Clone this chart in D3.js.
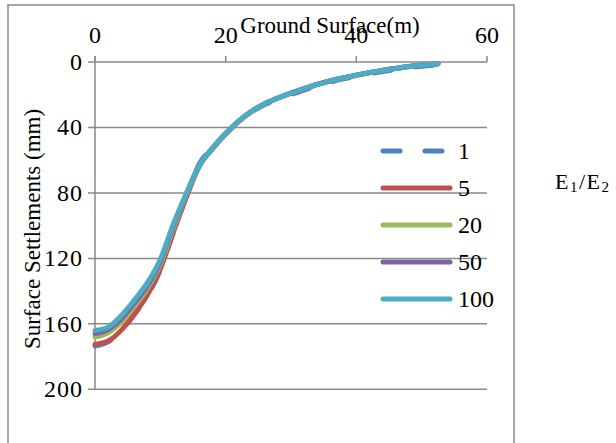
<!DOCTYPE html>
<html>
<head>
<meta charset="utf-8">
<script src="https://cdn.jsdelivr.net/npm/d3@7"></script>
<style>
  html, body { margin: 0; padding: 0; background: #fff; }
  svg { display: block; }
</style>
</head>
<body>
<svg id="chart" width="616" height="443"></svg>
<script>
// ---- data ----
const distance = [0, 2, 4, 6, 8, 10, 12, 14, 16, 18, 20, 22, 24, 26, 28, 30, 32, 34, 36, 38, 40, 42, 44, 46, 48, 50, 52.5];
const ratioLabels = ["1", "5", "20", "50", "100"];
const settle1   = [173.5, 171, 164.5, 154.5, 143, 127, 104, 81.5, 62, 52.5, 44, 36.5, 30.5, 26, 22.5, 19.8, 17.2, 14.5, 12.3, 10.3, 8.7, 7.2, 5.8, 4.6, 3.5, 2.6, 1.8];
const settle5   = [172.5, 170.5, 164, 154, 142.5, 126.5, 104, 82.5, 63.5, 53, 44, 36.3, 30.2, 25.6, 22, 19, 16.4, 13.8, 11.6, 9.7, 8.1, 6.6, 5.2, 4, 2.9, 2, 1.1];
const settle20  = [168, 165.5, 159, 149.5, 138.5, 123.5, 101.5, 81, 63.2, 52.8, 43.8, 36.2, 30.1, 25.5, 22, 19, 16.3, 13.7, 11.5, 9.7, 8, 6.5, 5.1, 3.9, 2.8, 1.9, 1];
const settle50  = [166, 163.5, 157, 147.5, 136.8, 122, 100, 80.5, 63, 52.6, 43.6, 36.1, 30, 25.5, 22, 19, 16.3, 13.7, 11.5, 9.7, 8, 6.5, 5.1, 3.9, 2.8, 1.9, 1];
const settle100 = [164, 162, 155, 145.5, 135, 120.5, 99, 80, 63, 52.5, 43.5, 36, 30, 25.5, 22, 19, 16.3, 13.7, 11.5, 9.7, 8, 6.5, 5.1, 3.9, 2.8, 1.9, 1];
const xTicks = [0, 20, 40, 60];
const yTicks = [0, 40, 80, 120, 160, 200];
const seriesColors = ["#4F81BD", "#C0504D", "#9BBB59", "#8064A2", "#4BACC6"];
const xTitle = "Ground Surface(m)";
const yTitle = "Surface Settlements (mm)";

const seriesValues = [settle1, settle5, settle20, settle50, settle100];
const series = ratioLabels.map((name, i) => ({
  name, color: seriesColors[i], dashed: i === 0,
  points: distance.map((d, j) => [d, seriesValues[i][j]])
}));

// ---- layout ----
const svg = d3.select("#chart");
const FONT = "Liberation Serif";
const pL = 95, pR = 487, pT = 62, pB = 389.3;
const x = d3.scaleLinear().domain([0, 60]).range([pL, pR]);
const y = d3.scaleLinear().domain([0, 200]).range([pT, pB]);
const axisColor = "#898989";

// outer frame (bottom clipped by the window)
svg.append("rect").attr("x", 8).attr("y", 5).attr("width", 506).attr("height", 460)
  .attr("fill", "none").attr("stroke", axisColor).attr("stroke-width", 1.5);

// gridlines + y ticks (extending left of axis)
svg.append("g").selectAll("line").data(yTicks.filter(t => t !== 0)).join("line")
  .attr("x1", pL - 7).attr("x2", pR)
  .attr("y1", d => y(d)).attr("y2", d => y(d))
  .attr("stroke", axisColor).attr("stroke-width", 1.5);

// y axis line
svg.append("line").attr("x1", pL).attr("x2", pL).attr("y1", pT - 6).attr("y2", pB)
  .attr("stroke", axisColor).attr("stroke-width", 1.5);
// x axis at top
svg.append("line").attr("x1", pL - 7).attr("x2", pR).attr("y1", pT).attr("y2", pT)
  .attr("stroke", axisColor).attr("stroke-width", 1.5);
// x ticks pointing up
svg.append("g").selectAll("line").data(xTicks).join("line")
  .attr("x1", d => x(d)).attr("x2", d => x(d))
  .attr("y1", pT - 6).attr("y2", pT)
  .attr("stroke", axisColor).attr("stroke-width", 1.5);

// tick labels
svg.append("g").selectAll("text").data(xTicks).join("text")
  .attr("x", d => x(d)).attr("y", 43).attr("text-anchor", "middle")
  .attr("font-family", FONT).attr("font-size", 24).text(d => d);
svg.append("g").selectAll("text").data(yTicks).join("text")
  .attr("x", 83).attr("y", d => y(d) + 8).attr("text-anchor", "end")
  .attr("font-family", FONT).attr("font-size", 24).attr("letter-spacing", 1).text(d => d);

// series lines
const line = d3.line().x(d => x(d[0])).y(d => y(d[1])).curve(d3.curveMonotoneX);
svg.append("g").selectAll("path").data(series).join("path")
  .attr("d", d => line(d.points))
  .attr("fill", "none")
  .attr("stroke", d => d.color)
  .attr("stroke-width", 5)
  .attr("stroke-linecap", "round")
  .attr("stroke-linejoin", "round")
  .attr("stroke-dasharray", d => d.dashed ? "17,25" : null);

// titles
svg.append("text").attr("x", 330).attr("y", 33).attr("text-anchor", "middle")
  .attr("font-family", FONT).attr("font-size", 23).text(xTitle);
svg.append("text").attr("transform", "translate(40,229) rotate(-90)")
  .attr("text-anchor", "middle").attr("font-family", FONT).attr("font-size", 23).text(yTitle);

// legend
const legend = svg.append("g").selectAll("g").data(series).join("g")
  .attr("transform", (d, i) => `translate(0,${151 + i * 37})`);
legend.append("line").attr("x1", 383).attr("x2", 450).attr("y1", 0).attr("y2", 0)
  .attr("stroke", d => d.color).attr("stroke-width", 5).attr("stroke-linecap", "round")
  .attr("stroke-dasharray", d => d.dashed ? "17,25" : null);
legend.append("text").attr("x", 458).attr("y", 8)
  .attr("font-family", FONT).attr("font-size", 24).text(d => d.name);

// legend title E1/E2
const lt = svg.append("text").attr("x", 555).attr("y", 189)
  .attr("font-family", FONT).attr("font-size", 22).attr("letter-spacing", 1.5);
lt.append("tspan").text("E");
lt.append("tspan").attr("dy", 3).attr("font-size", 15).text("1");
lt.append("tspan").attr("dy", -3).text("/E");
lt.append("tspan").attr("dy", 3).attr("font-size", 15).text("2");
</script>
</body>
</html>
